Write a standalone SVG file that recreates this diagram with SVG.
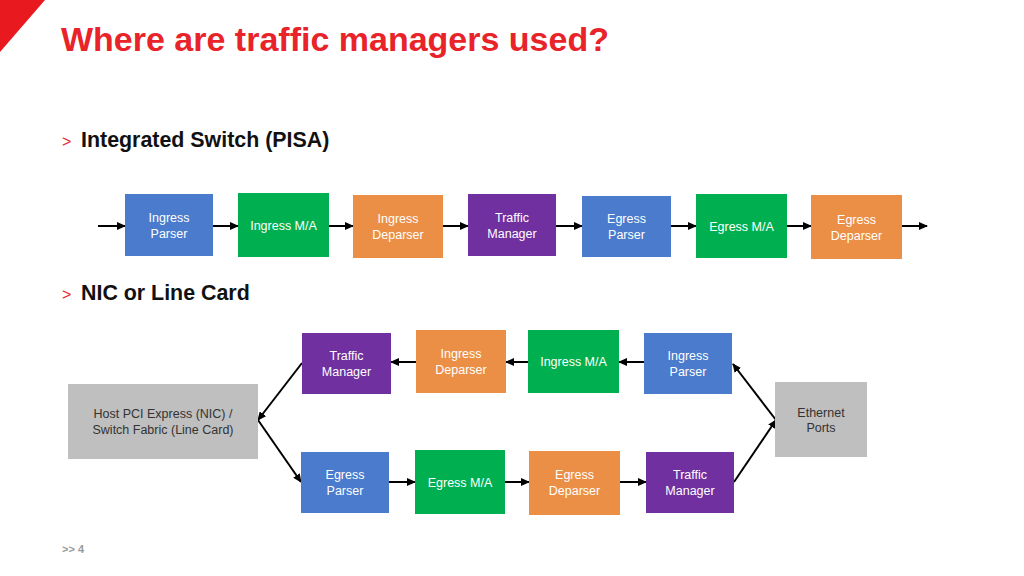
<svg xmlns="http://www.w3.org/2000/svg" width="1024" height="576" viewBox="0 0 1024 576">
<defs>
<marker id="ah" markerUnits="userSpaceOnUse" markerWidth="9" markerHeight="8" refX="8" refY="4" orient="auto"><path d="M0,0 L9,4 L0,8 z" fill="#000"/></marker>
<style>
.blue{fill:#4A7BCC}.green{fill:#00B050}.orange{fill:#EB8F46}.purple{fill:#7030A0}.gray{fill:#BFBFBF}
.t{font-family:"Liberation Sans",Arial,sans-serif;font-size:12.5px;fill:#fff;text-anchor:middle}
.d{fill:#333}
.c line,.c path{stroke:#000;stroke-width:2;fill:none;marker-end:url(#ah)}
.h{font-family:"Liberation Sans",Arial,sans-serif;font-weight:bold;font-size:21.4px;fill:#111}
.gt{font-family:"Liberation Sans",Arial,sans-serif;font-size:16px;fill:#E8242A}
</style>
</defs>
<rect width="1024" height="576" fill="#fff"/>
<polygon points="0,0 45,0 0,52" fill="#E8191F"/>
<text x="61" y="51" font-family="Liberation Sans,Arial,sans-serif" font-weight="bold" font-size="34" fill="#E8242A">Where are traffic managers used?</text>
<text x="62" y="147" class="gt">&gt;</text>
<text x="81" y="147" class="h">Integrated Switch (PISA)</text>
<text x="62" y="300" class="gt">&gt;</text>
<text x="81" y="300" class="h">NIC or Line Card</text>
<text x="62" y="553" font-family="Liberation Sans,Arial,sans-serif" font-size="11" font-weight="bold" fill="#999">&gt;&gt; 4</text>

<g class="c" id="connectors">
<line x1="98" y1="226" x2="125" y2="226"/>
<line x1="213" y1="226" x2="238" y2="226"/>
<line x1="329" y1="226" x2="353" y2="226"/>
<line x1="443" y1="226" x2="468" y2="226"/>
<line x1="556" y1="226" x2="582" y2="226"/>
<line x1="671" y1="226" x2="696" y2="226"/>
<line x1="787" y1="226" x2="811" y2="226"/>
<line x1="902" y1="226" x2="927" y2="226"/>
<line x1="644" y1="362" x2="619" y2="362"/>
<line x1="528" y1="362" x2="506" y2="362"/>
<line x1="416" y1="362" x2="391" y2="362"/>
<line x1="302" y1="363" x2="258" y2="420"/>
<line x1="258" y1="420" x2="301" y2="482"/>
<line x1="389" y1="482" x2="415" y2="482"/>
<line x1="505" y1="482" x2="529" y2="482"/>
<line x1="620" y1="482" x2="646" y2="482"/>
<line x1="734" y1="482" x2="776" y2="420"/>
<line x1="776" y1="420" x2="733" y2="364"/>
</g>

<g id="ip1"><rect class="blue" x="125" y="194" width="88" height="62"/><text class="t" x="169" y="222">Ingress</text><text class="t" x="169" y="238">Parser</text></g>
<g id="ima1"><rect class="green" x="238" y="193" width="91" height="64"/><text class="t" x="283.5" y="230">Ingress M/A</text></g>
<g id="idp1"><rect class="orange" x="353" y="195" width="90" height="63"/><text class="t" x="398" y="223">Ingress</text><text class="t" x="398" y="239">Deparser</text></g>
<g id="tm1"><rect class="purple" x="468" y="194" width="88" height="62"/><text class="t" x="512" y="222">Traffic</text><text class="t" x="512" y="238">Manager</text></g>
<g id="ep1"><rect class="blue" x="582" y="196" width="89" height="61"/><text class="t" x="626.5" y="223">Egress</text><text class="t" x="626.5" y="239">Parser</text></g>
<g id="ema1"><rect class="green" x="696" y="194" width="91" height="64"/><text class="t" x="741.5" y="231">Egress M/A</text></g>
<g id="edp1"><rect class="orange" x="811" y="195" width="91" height="64"/><text class="t" x="856.5" y="224">Egress</text><text class="t" x="856.5" y="240">Deparser</text></g>

<g id="host"><rect class="gray" x="68" y="384" width="190" height="75"/><text class="t d" x="163" y="418">Host PCI Express (NIC) /</text><text class="t d" x="163" y="434">Switch Fabric (Line Card)</text></g>
<g id="eth"><rect class="gray" x="775" y="382" width="92" height="75"/><text class="t d" x="821" y="417">Ethernet</text><text class="t d" x="821" y="432">Ports</text></g>

<g id="tm2"><rect class="purple" x="302" y="333" width="89" height="61"/><text class="t" x="346.5" y="360">Traffic</text><text class="t" x="346.5" y="376">Manager</text></g>
<g id="idp2"><rect class="orange" x="416" y="330" width="90" height="63"/><text class="t" x="461" y="358">Ingress</text><text class="t" x="461" y="374">Deparser</text></g>
<g id="ima2"><rect class="green" x="528" y="330" width="91" height="63"/><text class="t" x="573.5" y="366">Ingress M/A</text></g>
<g id="ip2"><rect class="blue" x="644" y="333" width="88" height="61"/><text class="t" x="688" y="360">Ingress</text><text class="t" x="688" y="376">Parser</text></g>

<g id="ep2"><rect class="blue" x="301" y="452" width="88" height="61"/><text class="t" x="345" y="479">Egress</text><text class="t" x="345" y="495">Parser</text></g>
<g id="ema2"><rect class="green" x="415" y="450" width="90" height="64"/><text class="t" x="460" y="487">Egress M/A</text></g>
<g id="edp2"><rect class="orange" x="529" y="451" width="91" height="64"/><text class="t" x="574.5" y="479">Egress</text><text class="t" x="574.5" y="495">Deparser</text></g>
<g id="tm3"><rect class="purple" x="646" y="452" width="88" height="61"/><text class="t" x="690" y="479">Traffic</text><text class="t" x="690" y="495">Manager</text></g>
</svg>
